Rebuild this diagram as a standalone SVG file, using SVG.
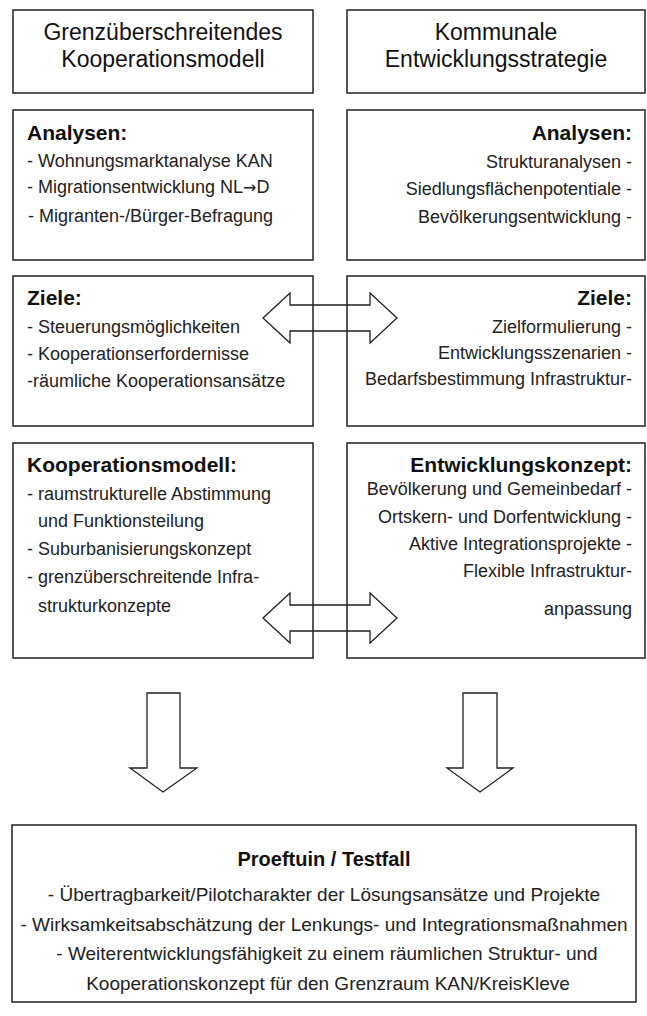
<svg xmlns="http://www.w3.org/2000/svg" width="647" height="1016" viewBox="0 0 647 1016">
<style>
.box{fill:#fff;stroke:#222;stroke-width:1.5}
.arr{fill:none;stroke:#222;stroke-width:1.3;stroke-linejoin:miter}
text{font-family:"Liberation Sans",Arial,sans-serif;fill:#111}
.title{font-size:23px;text-anchor:middle}
.head{font-size:21px;font-weight:bold}
.item{font-size:18px;fill:#222}
.bitem{font-size:19px;fill:#222;text-anchor:middle}
.r{text-anchor:end}
.sym{font-family:"DejaVu Sans",sans-serif;font-size:16px}
.ptitle{font-size:20px;font-weight:bold;text-anchor:middle}
</style>
<rect width="647" height="1016" fill="#fff"/>

<g id="title-left">
<rect class="box" x="13" y="10" width="300" height="83"/>
<text class="title" x="163" y="40">Grenzüberschreitendes</text>
<text class="title" x="163" y="67">Kooperationsmodell</text>
</g>
<g id="title-right">
<rect class="box" x="347" y="10" width="298" height="83"/>
<text class="title" x="496" y="40">Kommunale</text>
<text class="title" x="496" y="67">Entwicklungsstrategie</text>
</g>

<g id="analysen-left">
<rect class="box" x="13" y="110" width="300" height="150"/>
<text class="head" x="27" y="140">Analysen:</text>
<text class="item" x="27" y="167">- Wohnungsmarktanalyse KAN</text>
<text class="item" x="27" y="193">- Migrationsentwicklung NL<tspan class="sym">→</tspan>D</text>
<text class="item" x="28" y="222">- Migranten-/Bürger-Befragung</text>
</g>
<g id="analysen-right">
<rect class="box" x="347" y="110" width="298" height="150"/>
<text class="head r" x="632" y="140">Analysen:</text>
<text class="item r" x="632" y="168">Strukturanalysen -</text>
<text class="item r" x="632" y="195">Siedlungsflächenpotentiale -</text>
<text class="item r" x="632" y="223">Bevölkerungsentwicklung -</text>
</g>

<g id="ziele-left">
<rect class="box" x="13" y="276" width="300" height="150"/>
<text class="head" x="27" y="305">Ziele:</text>
<text class="item" x="27" y="333">- Steuerungsmöglichkeiten</text>
<text class="item" x="27" y="360">- Kooperationserfordernisse</text>
<text class="item" x="27" y="387">-räumliche Kooperationsansätze</text>
</g>
<g id="ziele-right">
<rect class="box" x="347" y="276" width="298" height="150"/>
<text class="head r" x="632" y="305">Ziele:</text>
<text class="item r" x="632" y="333">Zielformulierung -</text>
<text class="item r" x="632" y="359">Entwicklungsszenarien -</text>
<text class="item r" x="632" y="385">Bedarfsbestimmung Infrastruktur-</text>
</g>

<g id="kooperationsmodell">
<rect class="box" x="13" y="443" width="300" height="215"/>
<text class="head" x="27" y="472">Kooperationsmodell:</text>
<text class="item" x="27" y="500">- raumstrukturelle Abstimmung</text>
<text class="item" x="38" y="527">und Funktionsteilung</text>
<text class="item" x="27" y="555">- Suburbanisierungskonzept</text>
<text class="item" x="27" y="583">- grenzüberschreitende Infra-</text>
<text class="item" x="38" y="612">strukturkonzepte</text>
</g>
<g id="entwicklungskonzept">
<rect class="box" x="347" y="443" width="298" height="215"/>
<text class="head r" x="632" y="472">Entwicklungskonzept:</text>
<text class="item r" x="632" y="495">Bevölkerung und Gemeinbedarf -</text>
<text class="item r" x="632" y="523">Ortskern- und Dorfentwicklung -</text>
<text class="item r" x="632" y="550">Aktive Integrationsprojekte -</text>
<text class="item r" x="632" y="577">Flexible Infrastruktur-</text>
<text class="item r" x="632" y="615">anpassung</text>
</g>

<g id="proeftuin">
<rect class="box" x="12" y="825" width="624" height="177"/>
<text class="ptitle" x="324" y="866">Proeftuin / Testfall</text>
<text class="bitem" x="324" y="901">- Übertragbarkeit/Pilotcharakter der Lösungsansätze und Projekte</text>
<text class="bitem" x="324" y="931">- Wirksamkeitsabschätzung der Lenkungs- und Integrationsmaßnahmen</text>
<text class="bitem" x="327" y="960">- Weiterentwicklungsfähigkeit zu einem räumlichen Struktur- und</text>
<text class="bitem" x="328" y="990">Kooperationskonzept für den Grenzraum KAN/KreisKleve</text>
</g>

<g id="connectors">
<polygon class="arr" points="263,318 290,293 290,305 370,305 370,293 397,318 370,343 370,331 290,331 290,343"/>
<polygon class="arr" points="263,618 290,593 290,605 370,605 370,593 397,618 370,643 370,631 290,631 290,643"/>
<polygon class="arr" points="147,693 180,693 180,768 197,768 163,792 130,768 147,768"/>
<polygon class="arr" points="463,693 497,693 497,768 513,768 480,792 447,768 463,768"/>
</g>
</svg>
